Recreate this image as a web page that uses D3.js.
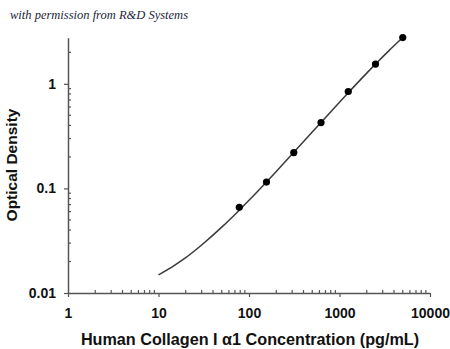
<!DOCTYPE html>
<html>
<head>
<meta charset="utf-8">
<script src="https://cdn.jsdelivr.net/npm/d3@7"></script>
<style>
  html, body { margin: 0; padding: 0; background: #fff; }
  svg { display: block; }
</style>
</head>
<body>
<svg id="chart" width="450" height="349"></svg>
<script>
// Standard points (concentration in pg/mL, optical density)
const concentrations = [78.1, 156, 312.5, 625, 1250, 2500, 5000];
const opticalDensity = [0.066, 0.115, 0.220, 0.426, 0.844, 1.544, 2.77];

// Fitted standard curve, sampled
const curveX = [10, 15, 20, 30, 50, 78.1, 100, 156, 200, 312.5, 500, 625, 1000, 1250, 2000, 2500, 3500, 5000];
const curveY = [0.0149, 0.0184, 0.0218, 0.0288, 0.0426, 0.0619, 0.0769, 0.1152, 0.1452, 0.2211, 0.3458, 0.4277, 0.6672, 0.8222, 1.2655, 1.5444, 2.066, 2.769];

// Axis ticks
const xTickValues = [1, 10, 100, 1000, 10000];
const xTickLabels = ["1", "10", "100", "1000", "10000"];
const yTickValues = [0.01, 0.1, 1];
const yTickLabels = ["0.01", "0.1", "1"];

const svg = d3.select("#chart");
const axisColor = "#555";
const labelFont = "'Liberation Sans', Arial, sans-serif";

const x = d3.scaleLog().domain([1, 10000]).range([68, 430]);
const y = d3.scaleLog().domain([0.01, 2.76]).range([293, 37.7]);

// Minor tick values (2..9 of each decade)
function minors(lo, hi) {
  const out = [];
  for (let d = lo; d < hi; d *= 10) {
    for (let k = 2; k <= 9; k++) {
      const v = d * k;
      if (v <= hi) out.push(v);
    }
  }
  return out;
}
const yMax = y.domain()[1];

// X axis
const gx = svg.append("g").attr("transform", `translate(0,${y(0.01)})`);
gx.call(d3.axisBottom(x).tickValues(xTickValues)
  .tickFormat((d, i) => xTickLabels[i]).tickSize(4).tickSizeOuter(0));
gx.append("g").selectAll("line").data(minors(1, 10000)).join("line")
  .attr("x1", d => x(d)).attr("x2", d => x(d))
  .attr("y1", 0).attr("y2", -3);
gx.selectAll("line").attr("stroke", axisColor).attr("stroke-width", 1.2);
gx.select(".domain").attr("stroke", axisColor).attr("stroke-width", 1.5);
gx.selectAll("text")
  .attr("font-family", labelFont).attr("font-weight", "bold")
  .attr("font-size", 14).attr("fill", "#111").attr("dy", "1.3em");

// Y axis
const gy = svg.append("g").attr("transform", `translate(${x(1)},0)`);
gy.call(d3.axisLeft(y).tickValues(yTickValues)
  .tickFormat((d, i) => yTickLabels[i]).tickSize(4).tickSizeOuter(0).tickPadding(8));
gy.append("g").selectAll("line").data(minors(0.01, yMax)).join("line")
  .attr("x1", 0).attr("x2", 3)
  .attr("y1", d => y(d)).attr("y2", d => y(d));
gy.selectAll("line").attr("stroke", axisColor).attr("stroke-width", 1.2);
gy.select(".domain").attr("stroke", axisColor).attr("stroke-width", 1.5);
gy.selectAll("text")
  .attr("font-family", labelFont).attr("font-weight", "bold")
  .attr("font-size", 14).attr("fill", "#111");

// Standard curve
const curvePts = curveX.map((v, i) => [v, curveY[i]]);
svg.append("path")
  .datum(curvePts)
  .attr("fill", "none")
  .attr("stroke", "#3a3a3a")
  .attr("stroke-width", 1.5)
  .attr("d", d3.line().x(d => x(d[0])).y(d => y(d[1])).curve(d3.curveMonotoneX));

// Standard points
svg.append("g").selectAll("circle")
  .data(concentrations.map((c, i) => [c, opticalDensity[i]]))
  .join("circle")
  .attr("cx", d => x(d[0])).attr("cy", d => y(d[1]))
  .attr("r", 3.6).attr("fill", "#000");

// Axis titles
svg.append("text")
  .attr("x", 250).attr("y", 345)
  .attr("text-anchor", "middle")
  .attr("font-family", labelFont).attr("font-weight", "bold")
  .attr("font-size", 16.2).attr("fill", "#111")
  .text("Human Collagen I α1 Concentration (pg/mL)");

svg.append("text")
  .attr("transform", "translate(17,165) rotate(-90)")
  .attr("text-anchor", "middle")
  .attr("font-family", labelFont).attr("font-weight", "bold")
  .attr("font-size", 15.5).attr("fill", "#111")
  .text("Optical Density");

// Credit line
svg.append("text")
  .attr("x", 10).attr("y", 19)
  .attr("font-family", "'Liberation Serif', 'DejaVu Serif', serif")
  .attr("font-style", "italic")
  .attr("font-size", 12.5)
  .attr("fill", "#1a1f3a")
  .text("with permission from R&D Systems");
</script>
</body>
</html>
